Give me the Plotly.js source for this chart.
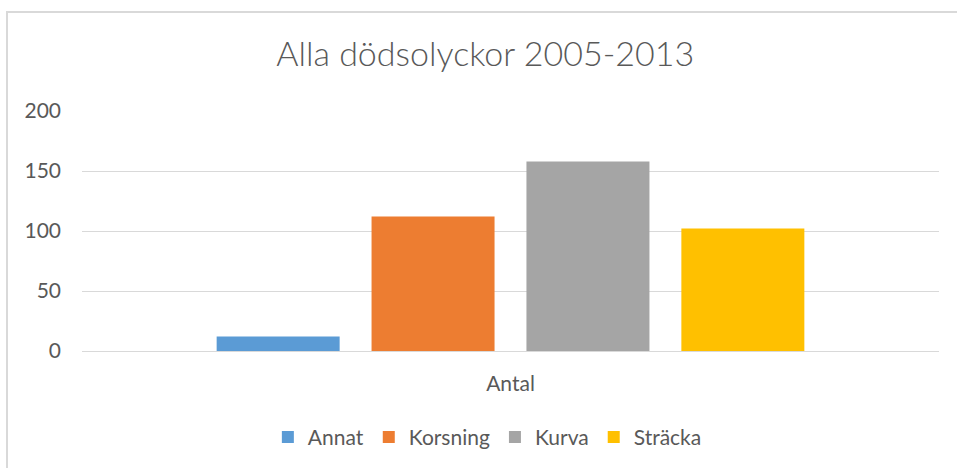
<!DOCTYPE html>
<html>
<head>
<meta charset="utf-8">
<script src="https://cdn.plot.ly/plotly-3.0.1.min.js"></script>
<style>
  html, body { margin: 0; padding: 0; background: #fff; }
  #chart { position: absolute; left: 0; top: 0; width: 957px; height: 468px; }
  #frame { position: absolute; left: 6px; top: 11px; width: 951px; height: 457px;
           border-top: 2px solid #d9d9d9; border-left: 2px solid #d9d9d9; box-sizing: border-box;
           pointer-events: none; }
</style>
</head>
<body>
<div id="chart"></div>
<div id="frame"></div>
<script>
const categories = ["Antal"];
const seriesNames = ["Annat", "Korsning", "Kurva", "Sträcka"];
const annat = [12];
const korsning = [112];
const kurva = [158];
const stracka = [102];
const seriesColors = ["#5B9BD5", "#ED7D31", "#A5A5A5", "#FFC000"];
const yTicks = [0, 50, 100, 150, 200];

const values = [annat, korsning, kurva, stracka];
const traces = seriesNames.map((name, i) => ({
  type: "bar",
  name: name,
  x: categories,
  y: values[i],
  marker: { color: seriesColors[i], line: { width: 0 } },
  hoverinfo: "name+y"
}));

const font = "Lato, 'Open Sans', sans-serif";
const layout = {
  width: 957,
  height: 468,
  margin: { l: 82, r: 18, t: 111, b: 116 },
  paper_bgcolor: "#ffffff",
  plot_bgcolor: "#ffffff",
  font: { family: font, color: "#595959", size: 16 },
  title: {
    text: "Alla dödsolyckor 2005-2013",
    font: { family: font, size: 34, color: "#595959", weight: 300 },
    xref: "container", x: 0.507, xanchor: "center",
    yref: "container", y: 0.885, yanchor: "middle"
  },
  barmode: "group",
  bargap: 0.277,
  bargroupgap: 0.206,
  xaxis: {
    type: "category",
    showgrid: false,
    zeroline: false,
    showline: false,
    ticks: "",
    tickfont: { size: 21, color: "#595959" },
    ticklabelstandoff: 18
  },
  yaxis: {
    range: [0, 200],
    tickvals: yTicks,
    ticktext: yTicks.map(String),
    showgrid: true,
    gridcolor: "#d9d9d9",
    gridwidth: 1,
    zeroline: true,
    zerolinecolor: "#d9d9d9",
    zerolinewidth: 1,
    showline: false,
    ticks: "",
    ticklabelstandoff: 20,
    tickfont: { size: 21, color: "#595959" }
  },
  showlegend: true,
  legend: {
    orientation: "h",
    x: 0.473, xanchor: "center",
    y: -0.354, yanchor: "middle",
    font: { size: 21, color: "#595959" },
    itemwidth: 30,
    tracegroupgap: 0
  }
};

Plotly.newPlot("chart", traces, layout, { displayModeBar: false, staticPlot: true });
</script>
</body>
</html>
